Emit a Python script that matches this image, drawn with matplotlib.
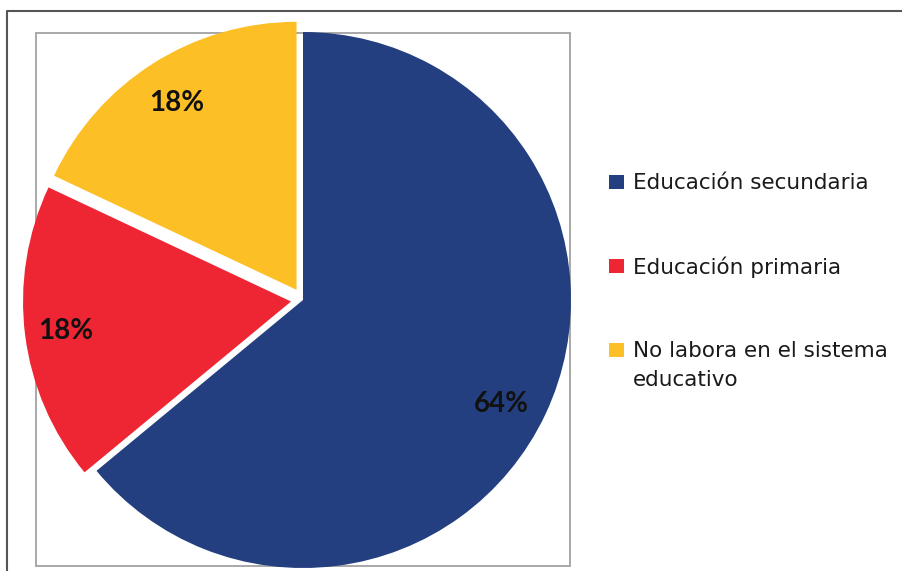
import matplotlib.pyplot as plt
from matplotlib.patches import Rectangle
from matplotlib.lines import Line2D

labels = ['Educación secundaria', 'Educación primaria', 'No labora en el sistema\neducativo']
shares = [64, 18, 18]
colors = ['#243f80', '#ee2633', '#fdbf26']
explode = [0, 0.045, 0.045]

W, H = 902, 571
R = 268            # pie radius in px
cx, cy = 303, 300  # pie centre in px (from top)

fig = plt.figure(figsize=(W / 100, H / 100), dpi=100)
ax = fig.add_axes([0, 0, 1, 1])

wedges, _, pcts = ax.pie(shares, colors=colors, explode=explode, startangle=90,
                         counterclock=False, radius=1, autopct='%.0f%%',
                         pctdistance=0.83,
                         textprops=dict(fontsize=20, fontweight='bold',
                                        family='Lato', color='#111111'))
ax.set_aspect('auto')
ax.set_xlim(-cx / R, (W - cx) / R)
ax.set_ylim(-(H - cy) / R, cy / R)
ax.axis('off')

# small nudges of the percentage labels (px)
nudges = [(-3, -9), (-5, -2), (-1, -1)]
for t, (dx, dy) in zip(pcts, nudges):
    x, y = t.get_position()
    t.set_position((x + dx / R, y + dy / R))

# plot area frame (light gray) and outer frame (dark)
fig.add_artist(Rectangle((36 / W, 1 - 566 / H), (570 - 36) / W, (566 - 33) / H,
                         transform=fig.transFigure, fill=False,
                         edgecolor='#a8a8a8', lw=1.4, zorder=-1))
fig.add_artist(Line2D([7 / W, 7 / W, 1], [0, 1 - 11 / H, 1 - 11 / H],
                      transform=fig.transFigure, color='#555555', lw=1.5))

# legend, drawn by hand so the wrapped label keeps its marker on the first line
base_y = 190
step = 84
for i, (lab, col) in enumerate(zip(labels, colors)):
    yb = base_y + i * step
    fig.add_artist(Rectangle((609 / W, 1 - (yb - 1) / H), 15 / W, 14 / H,
                             transform=fig.transFigure, facecolor=col, edgecolor='none'))
    fig.text(633 / W, 1 - (yb - 17) / H, lab, fontsize=15.5, color='#1a1a1a',
             va='top', ha='left', linespacing=1.55)

fig.savefig('out.png', dpi=100)
